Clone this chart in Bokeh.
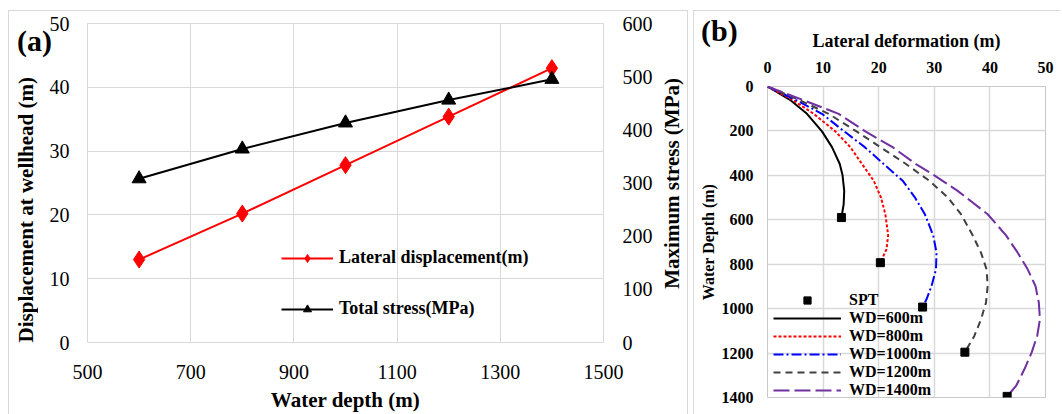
from bokeh.plotting import figure
from bokeh.models import Range1d, LinearAxis, Legend, LegendItem, FixedTicker, Div
from bokeh.embed import file_html
from bokeh.resources import INLINE

FONT = "Liberation Serif"
GRID = "#d9d9d9"

# ---------------- panel (a) data ----------------
water_depth = [600, 800, 1000, 1200, 1400]
lateral_displacement = [13.0, 20.2, 27.8, 35.4, 43.0]
total_stress = [308, 364, 413, 456, 495]
a_x_ticks = [500, 700, 900, 1100, 1300, 1500]
a_y_ticks = [0, 10, 20, 30, 40, 50]
a_y2_ticks = [0, 100, 200, 300, 400, 500, 600]

# ---------------- panel (b) data ----------------
wd600_def = [0, 4.2, 7.1, 9.8, 11.6, 13.0, 13.5, 13.8, 13.7, 13.3]
wd600_depth = [0, 63, 123, 202, 273, 349, 400, 470, 530, 590]
wd800_def = [0, 4.7, 8.3, 12.2, 14.9, 17.0, 19.1, 20.4, 21.2, 21.7, 21.4, 20.3]
wd800_depth = [0, 63, 123, 202, 273, 349, 424, 499, 575, 670, 733, 793]
wd1000_def = [0, 5.3, 9.8, 13.8, 17.5, 20.9, 24.3, 26.5, 28.3, 29.8, 30.4, 30.3, 29.5, 28.6, 27.9]
wd1000_depth = [0, 63, 123, 202, 273, 349, 424, 499, 575, 670, 748, 823, 898, 958, 993]
wd1200_def = [0, 5.9, 11.0, 16.0, 20.3, 24.9, 29.1, 32.4, 34.8, 36.9, 38.4, 39.4, 39.6, 39.3, 38.4, 37.2, 35.5]
wd1200_depth = [0, 63, 123, 202, 273, 349, 424, 499, 575, 670, 748, 823, 898, 973, 1048, 1123, 1196]
wd1400_def = [0, 6.6, 12.8, 17.6, 22.5, 26.7, 30.0, 34.2, 39.6, 42.9, 45.0, 46.8, 48.2, 48.8, 49.0, 48.5, 47.5, 46.2, 44.7, 43.1]
wd1400_depth = [0, 63, 123, 202, 273, 349, 400, 470, 575, 670, 748, 823, 898, 973, 1048, 1123, 1198, 1273, 1348, 1395]
spt_def = [13.3, 20.3, 27.9, 35.5, 43.1]
spt_depth = [590, 793, 993, 1196, 1395]
b_x_ticks = [0, 10, 20, 30, 40, 50]
b_y_ticks = [0, 200, 400, 600, 800, 1000, 1200, 1400]


def style_axis(ax, size, bold, label_size, standoff, title_standoff):
    ax.major_label_text_font = FONT
    ax.major_label_text_font_size = size
    ax.major_label_text_font_style = "bold" if bold else "normal"
    ax.major_label_text_color = "#000000"
    ax.axis_label_text_font = FONT
    ax.axis_label_text_font_size = label_size
    ax.axis_label_text_font_style = "bold"
    ax.axis_label_text_color = "#000000"
    ax.major_tick_line_color = None
    ax.minor_tick_line_color = None
    ax.major_tick_out = 0
    ax.major_tick_in = 0
    ax.minor_tick_out = 0
    ax.minor_tick_in = 0
    ax.axis_line_color = None
    ax.major_label_standoff = standoff
    ax.axis_label_standoff = title_standoff


def panel_border(w, h, x0, y0, right):
    imgs = ["linear-gradient(#d9d9d9,#d9d9d9)"] * (3 if right else 2)
    sizes = ["1px %dpx" % (h - y0), "%dpx 1px" % (w - x0)]
    pos = ["%dpx %dpx" % (x0, y0), "%dpx %dpx" % (x0, y0)]
    if right:
        sizes.append("1px %dpx" % (h - y0))
        pos.append("%dpx %dpx" % (w - 1, y0))
    return {"background-image": ", ".join(imgs), "background-size": ", ".join(sizes),
            "background-position": ", ".join(pos), "background-repeat": "no-repeat"}


def text_div(txt, left, top, size, vertical=False):
    css = ("font-family: 'Liberation Serif'; font-weight: bold; font-size: %dpx; "
           "line-height: 1; color: #000000; white-space: nowrap;" % size)
    if vertical:
        css += " writing-mode: vertical-rl; transform: rotate(180deg);"
    return Div(text='<div style="%s">%s</div>' % (css, txt),
               styles={"position": "absolute", "left": "%spx" % left, "top": "%spx" % top,
                       "margin": "0", "padding": "0"})


# ======================= panel (a) =======================
WA, HA = 688, 414
sty_a = panel_border(WA, HA, 8, 10, True)
sty_a["float"] = "left"
pa = figure(width=WA, height=HA, x_range=Range1d(500, 1500), y_range=Range1d(0, 50),
            output_backend="svg", toolbar_location=None,
            min_border_left=87, min_border_right=85, min_border_top=23, min_border_bottom=69,
            border_fill_color=None, outline_line_color=GRID, styles=sty_a)
pa.extra_y_ranges = {"stress": Range1d(0, 600)}
pa.xaxis.ticker = FixedTicker(ticks=a_x_ticks)
pa.yaxis.ticker = FixedTicker(ticks=a_y_ticks)
pa.xaxis.axis_label = "Water depth (m)"
ax_r = LinearAxis(y_range_name="stress", ticker=FixedTicker(ticks=a_y2_ticks))
pa.add_layout(ax_r, "right")
style_axis(pa.xaxis[0], "20px", False, "21px", 22, 6)
style_axis(pa.yaxis[0], "20px", False, "21px", 18, 6)
style_axis(ax_r, "20px", False, "21px", 19, 10)
pa.xgrid.grid_line_color = GRID
pa.ygrid.grid_line_color = GRID

l1 = pa.line(water_depth, lateral_displacement, line_color="#ff0000", line_width=2)
m1 = pa.scatter(water_depth, lateral_displacement, marker="diamond", size=17,
                fill_color="#ff0000", line_color="#ff0000")
l2 = pa.line(water_depth, total_stress, y_range_name="stress", line_color="#000000", line_width=2)
m2 = pa.scatter(water_depth, total_stress, y_range_name="stress", marker="triangle", size=14,
                fill_color="#000000", line_color="#000000")

leg_a = Legend(items=[LegendItem(label="Lateral displacement(m)", renderers=[l1, m1]),
                      LegendItem(label="Total stress(MPa)", renderers=[l2, m2])],
               location=(194, 23), orientation="vertical",
               label_text_font=FONT, label_text_font_size="18px", label_text_font_style="bold",
               label_text_color="#000000",
               glyph_width=52, glyph_height=20, label_height=20, label_standoff=6,
               spacing=30, padding=0, margin=0,
               background_fill_alpha=0, border_line_alpha=0)
pa.add_layout(leg_a)

# ======================= panel (b) =======================
WB, HB = 368, 414
sty_b = panel_border(WB, HB, 1, 10, False)
sty_b["float"] = "left"
sty_b["margin-left"] = "4px"
pb = figure(width=WB, height=HB, x_range=Range1d(0, 50), y_range=Range1d(1400, 0),
            x_axis_location="above",
            output_backend="svg", toolbar_location=None,
            min_border_left=75, min_border_right=15, min_border_top=86, min_border_bottom=17,
            border_fill_color=None, outline_line_color="#c8c8c8", styles=sty_b)
pb.xaxis.ticker = FixedTicker(ticks=b_x_ticks)
pb.yaxis.ticker = FixedTicker(ticks=b_y_ticks)
pb.xaxis.axis_label = "Lateral deformation (m)"
pb.yaxis.axis_label = "Water Depth (m)"
style_axis(pb.xaxis[0], "16px", True, "18px", 14, 8)
style_axis(pb.yaxis[0], "16px", True, "16px", 14, 2)
pb.xgrid.grid_line_color = GRID
pb.ygrid.grid_line_color = GRID
pb.xgrid.grid_line_width = 1.5
pb.ygrid.grid_line_width = 1.5

r600 = pb.line(wd600_def, wd600_depth, line_color="#000000", line_width=2)
r800 = pb.line(wd800_def, wd800_depth, line_color="#ff0000", line_width=2, line_dash="3 2")
r1000 = pb.line(wd1000_def, wd1000_depth, line_color="#0000ff", line_width=2, line_dash="10 3 2 3")
r1200 = pb.line(wd1200_def, wd1200_depth, line_color="#404040", line_width=2, line_dash="7 5")
r1400 = pb.line(wd1400_def, wd1400_depth, line_color="#7030a0", line_width=2, line_dash="16 5")
rspt = pb.scatter(spt_def, spt_depth, marker="square", size=8, fill_color="#000000", line_color="#000000")

leg_b = Legend(items=[LegendItem(label="SPT", renderers=[rspt]),
                      LegendItem(label="WD=600m", renderers=[r600]),
                      LegendItem(label="WD=800m", renderers=[r800]),
                      LegendItem(label="WD=1000m", renderers=[r1000]),
                      LegendItem(label="WD=1200m", renderers=[r1200]),
                      LegendItem(label="WD=1400m", renderers=[r1400])],
               location=(6, -2), orientation="vertical",
               label_text_font=FONT, label_text_font_size="16px", label_text_font_style="bold",
               label_text_color="#000000",
               glyph_width=68, glyph_height=18, label_height=18, label_standoff=8,
               spacing=0, padding=0, margin=0,
               background_fill_alpha=0, border_line_alpha=0)
pb.add_layout(leg_b)

# ---- free texts (panel letters and the two vertical titles of panel a)
div_a = text_div("(a)", 17, 26, 30)
div_b = text_div("(b)", 701, 16, 30)
div_ylab = text_div("Displacement at wellhead (m)", 16, 77, 21, vertical=True)
div_y2lab = text_div("Maximum stress (MPa)", 662, 78, 21, vertical=True)

open("out.html", "w").write(file_html([pa, pb, div_a, div_b, div_ylab, div_y2lab], INLINE))
